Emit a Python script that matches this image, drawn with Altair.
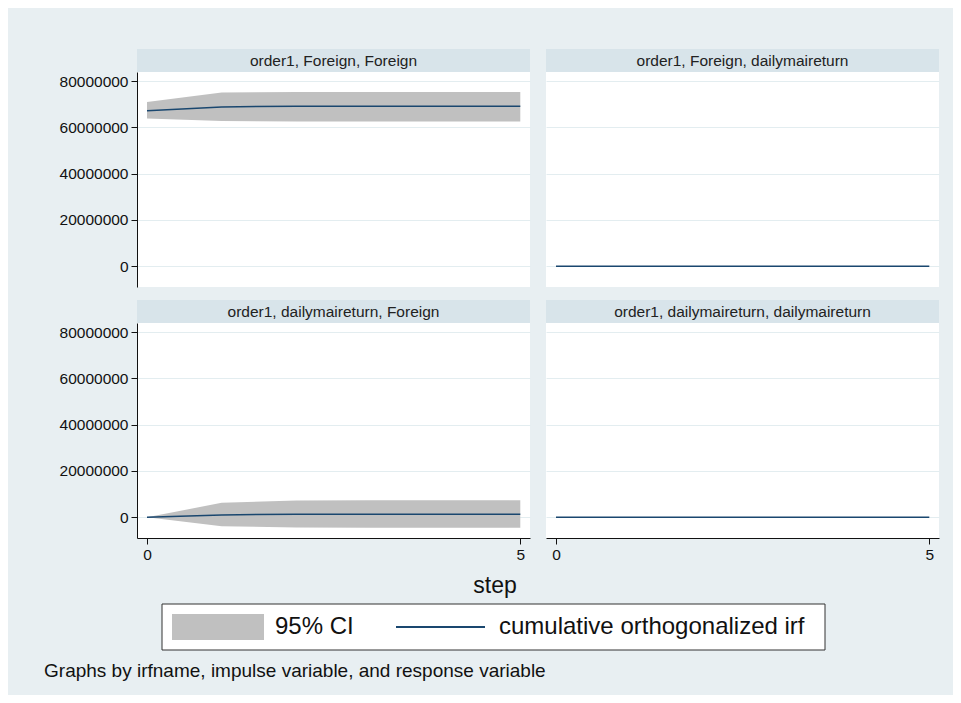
import altair as alt
import pandas as pd

# ---------------- data ----------------
STEPS = [0, 1, 2, 3, 4, 5]
PANEL_TITLES = [
    "order1, Foreign, Foreign",
    "order1, Foreign, dailymaireturn",
    "order1, dailymaireturn, Foreign",
    "order1, dailymaireturn, dailymaireturn",
]
# cumulative orthogonalized irf and 95% CI bounds, per panel
IRF_FF = [67.2e6, 68.9e6, 69.2e6, 69.2e6, 69.2e6, 69.2e6]
LO_FF = [63.9e6, 62.8e6, 62.6e6, 62.6e6, 62.6e6, 62.6e6]
HI_FF = [71.0e6, 75.1e6, 75.4e6, 75.4e6, 75.4e6, 75.4e6]

IRF_FD = [0, 0, 0, 0, 0, 0]
LO_FD = [0, 0, 0, 0, 0, 0]
HI_FD = [0, 0, 0, 0, 0, 0]

IRF_DF = [0, 1.0e6, 1.3e6, 1.3e6, 1.3e6, 1.3e6]
LO_DF = [0, -3.9e6, -4.5e6, -4.6e6, -4.6e6, -4.6e6]
HI_DF = [0, 6.2e6, 7.2e6, 7.3e6, 7.3e6, 7.3e6]

IRF_DD = [0, 0, 0, 0, 0, 0]
LO_DD = [0, 0, 0, 0, 0, 0]
HI_DD = [0, 0, 0, 0, 0, 0]

Y_TICKS = [0, 20000000, 40000000, 60000000, 80000000]
X_TICKS = [0, 5]
LEGEND_LABELS = ["95% CI", "cumulative orthogonalized irf"]
X_TITLE = "step"
NOTE = "Graphs by irfname, impulse variable, and response variable"

# ---------------- style ----------------
FONT = "Liberation Sans"
BG = "#e8eff2"
STRIP = "#d8e4ea"
GRID = "#e3edf0"
CI = "#c0c0c0"
LINE = "#1a476f"
W, H, SH = 393, 215, 23
X_DOM = [-0.134, 5.13]
Y_DOM = [-9e6, 84e6]

one = pd.DataFrame({"k": [0]})


def panel(title, irf, lo, hi, show_x, show_y):
    df = pd.DataFrame({"step": STEPS, "irf": irf, "lo": lo, "hi": hi})
    if show_x:
        x_axis = alt.Axis(values=X_TICKS, grid=False, title=None, labelPadding=3)
    else:
        x_axis = None
    y_axis = alt.Axis(values=Y_TICKS, format="d", grid=True, title=None,
                      labels=show_y, ticks=show_y, domain=show_y)
    xs = alt.X("step:Q", scale=alt.Scale(domain=X_DOM, nice=False, zero=False), axis=x_axis)
    ysc = alt.Scale(domain=Y_DOM, nice=False, zero=False)
    area = alt.Chart(df).mark_area(color=CI, opacity=1).encode(
        x=xs, y=alt.Y("lo:Q", scale=ysc, axis=y_axis), y2="hi:Q")
    line = alt.Chart(df).mark_line(color=LINE, strokeWidth=1.5).encode(
        x=xs, y=alt.Y("irf:Q", scale=ysc, axis=y_axis))
    strip = alt.Chart(one).mark_rect(color=STRIP).encode(
        x=alt.value(0), x2=alt.value(W), y=alt.value(-SH), y2=alt.value(0))
    txt = alt.Chart(one).mark_text(font=FONT, fontSize=15.5, color="#222",
                                   baseline="middle", align="center").encode(
        x=alt.value(W / 2), y=alt.value(-SH / 2), text=alt.value(title))
    return alt.layer(strip, txt, area, line).properties(
        width=W, height=H, view=alt.ViewBackground(fill="white", strokeWidth=0))


p1 = panel(PANEL_TITLES[0], IRF_FF, LO_FF, HI_FF, False, True)
p2 = panel(PANEL_TITLES[1], IRF_FD, LO_FD, HI_FD, False, False)
p3 = panel(PANEL_TITLES[2], IRF_DF, LO_DF, HI_DF, True, True)
p4 = panel(PANEL_TITLES[3], IRF_DD, LO_DD, HI_DD, True, False)

row1 = alt.hconcat(p1, p2, spacing=16)
row2 = alt.hconcat(p3, p4, spacing=16)
grid = alt.vconcat(row1, row2, spacing=13)

# ---------------- bottom: x title + legend ----------------
base = alt.Chart(one)
step_t = base.mark_text(font=FONT, fontSize=23, color="#111", align="center",
                        baseline="alphabetic").encode(
    x=alt.value(358), y=alt.value(30), text=alt.value(X_TITLE))
box = base.mark_rect(fill="white", stroke="#333", strokeWidth=1).encode(
    x=alt.value(25), x2=alt.value(688), y=alt.value(41), y2=alt.value(87))
swatch = base.mark_rect(fill=CI).encode(
    x=alt.value(35), x2=alt.value(127), y=alt.value(51), y2=alt.value(77))
lab1 = base.mark_text(font=FONT, fontSize=24, color="#111", align="left",
                      baseline="middle").encode(
    x=alt.value(138), y=alt.value(64), text=alt.value(LEGEND_LABELS[0]))
lrule = base.mark_rule(color=LINE, strokeWidth=2).encode(
    x=alt.value(259), x2=alt.value(348), y=alt.value(64))
lab2 = base.mark_text(font=FONT, fontSize=24, color="#111", align="left",
                      baseline="middle").encode(
    x=alt.value(362), y=alt.value(64), text=alt.value(LEGEND_LABELS[1]))
bottom = alt.layer(step_t, box, swatch, lab1, lrule, lab2).properties(width=700, height=90)

chart = alt.vconcat(grid, bottom, spacing=0).properties(
    title=alt.TitleParams(text=NOTE, orient="bottom", anchor="start", dx=-15, offset=9,
                          fontSize=19, fontWeight="normal", color="#111", font=FONT),
    padding={"left": 36, "top": 41, "right": 14, "bottom": 14},
    background=BG,
).configure_view(strokeWidth=0).configure_axis(
    labelFont=FONT, labelFontSize=15.5, labelColor="#111", tickColor="#111",
    domainColor="#111", tickSize=6, labelPadding=3, gridColor=GRID, gridWidth=1,
    domainWidth=1, tickWidth=1,
)

chart.save("out.html", embed_options={"renderer": "svg", "actions": False})
